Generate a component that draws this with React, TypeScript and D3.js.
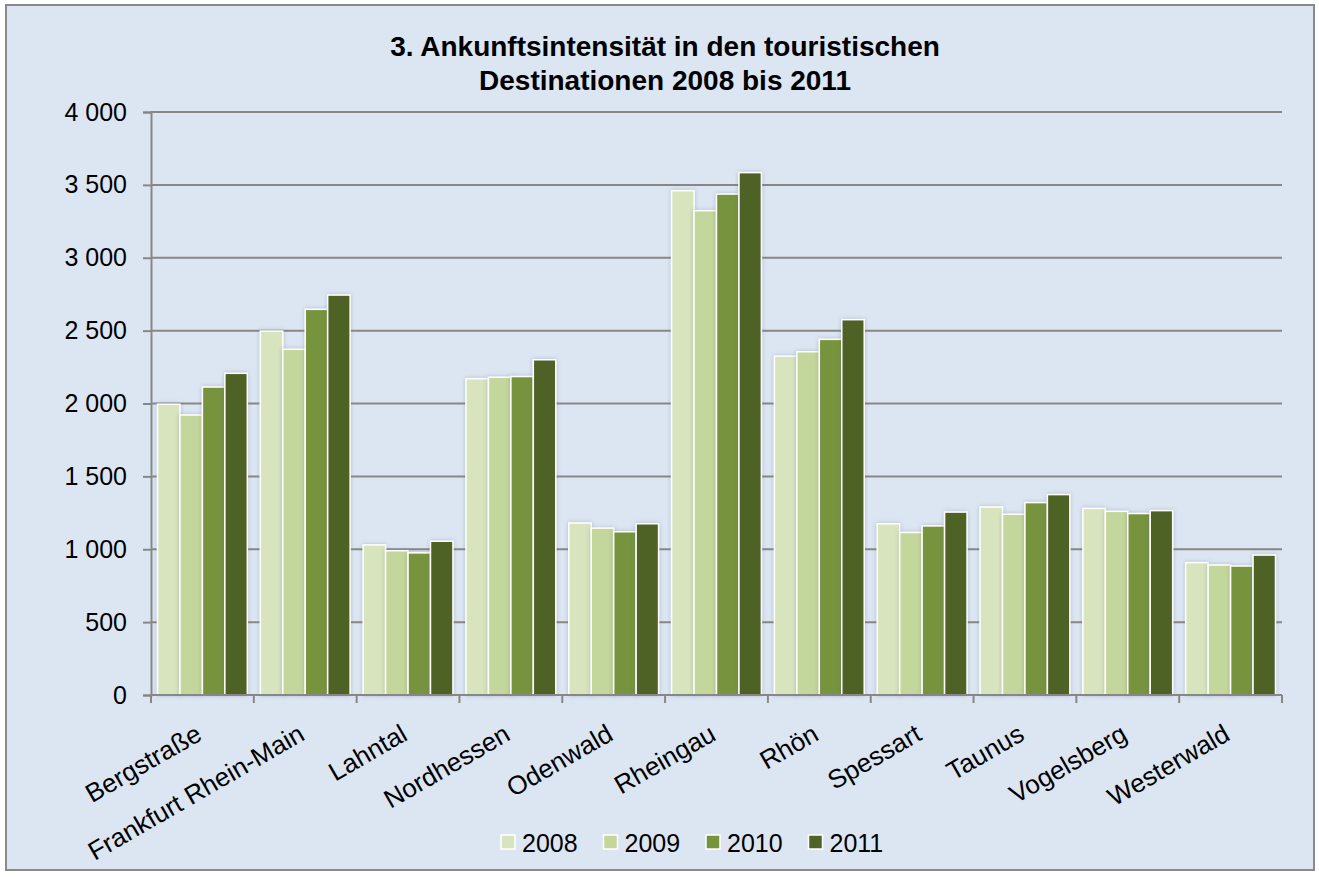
import React, { useEffect, useRef } from "react";
import * as d3 from "d3";

const categories = [
  "Bergstraße",
  "Frankfurt Rhein-Main",
  "Lahntal",
  "Nordhessen",
  "Odenwald",
  "Rheingau",
  "Rhön",
  "Spessart",
  "Taunus",
  "Vogelsberg",
  "Westerwald",
];
const years = ["2008", "2009", "2010", "2011"];
const values2008 = [1995, 2497, 1030, 2170, 1180, 3460, 2325, 1175, 1290, 1280, 908];
const values2009 = [1921, 2372, 990, 2180, 1145, 3323, 2355, 1115, 1240, 1260, 892];
const values2010 = [2113, 2646, 975, 2185, 1120, 3437, 2440, 1160, 1320, 1245, 885];
const values2011 = [2207, 2744, 1055, 2300, 1175, 3584, 2575, 1255, 1375, 1265, 960];
const yTicks = [0, 500, 1000, 1500, 2000, 2500, 3000, 3500, 4000];
const titleLines = [
  "3. Ankunftsintensität in den touristischen",
  "Destinationen 2008 bis 2011",
];
const colors = ["#D7E4BD", "#C3D69B", "#77933C", "#4F6228"];

const App = () => {
  const svgRef = useRef<SVGSVGElement>(null);

  useEffect(() => {
    const svg = d3.select(svgRef.current);
    svg.selectAll("*").remove();

    const font = "Arial, 'Liberation Sans', sans-serif";
    const plot = { left: 151, right: 1282, top: 112, bottom: 695 };
    const series = [values2008, values2009, values2010, values2011];

    // chart frame
    svg
      .append("rect")
      .attr("x", 6)
      .attr("y", 5)
      .attr("width", 1308)
      .attr("height", 865)
      .attr("fill", "#DCE6F2")
      .attr("stroke", "#898989")
      .attr("stroke-width", 2);

    const filter = svg
      .append("defs")
      .append("filter")
      .attr("id", "shadow")
      .attr("x", "-20%")
      .attr("y", "-5%")
      .attr("width", "140%")
      .attr("height", "110%");
    filter
      .append("feDropShadow")
      .attr("dx", 0)
      .attr("dy", 0)
      .attr("stdDeviation", 2)
      .attr("flood-color", "#5a6a80")
      .attr("flood-opacity", 0.35);

    const x = d3.scaleBand().domain(categories).range([plot.left, plot.right]);
    const xInner = d3
      .scaleBand()
      .domain(years)
      .range([0, x.bandwidth()])
      .paddingOuter(0.29)
      .paddingInner(0);
    const y = d3.scaleLinear().domain([0, 4000]).range([plot.bottom, plot.top]);

    // gridlines
    svg
      .append("g")
      .selectAll("line")
      .data(yTicks.filter((t) => t > 0))
      .join("line")
      .attr("x1", plot.left)
      .attr("x2", plot.right)
      .attr("y1", (d) => y(d))
      .attr("y2", (d) => y(d))
      .attr("stroke", "#878787")
      .attr("stroke-width", 2);

    // y axis
    const yAxis = svg
      .append("g")
      .attr("transform", `translate(${plot.left},0)`)
      .call(
        d3
          .axisLeft(y)
          .tickValues(yTicks)
          .tickSize(8)
          .tickPadding(16)
          .tickFormat((d) => d3.format(",")(d as number).replace(/,/g, " "))
      );
    yAxis.select(".domain").attr("stroke", "#878787").attr("stroke-width", 2);
    yAxis.selectAll(".tick line").attr("stroke", "#878787").attr("stroke-width", 2);
    yAxis
      .selectAll(".tick text")
      .attr("fill", "#000")
      .style("font-family", font)
      .style("font-size", "25px");

    // bars
    const groups = svg
      .append("g")
      .selectAll("g")
      .data(categories)
      .join("g")
      .attr("transform", (d) => `translate(${x(d)},0)`);

    groups
      .selectAll("rect")
      .data((d, i) => years.map((yr, k) => ({ yr, k, v: series[k][i] })))
      .join("rect")
      .attr("x", (d) => xInner(d.yr)!)
      .attr("y", (d) => y(d.v))
      .attr("width", xInner.bandwidth())
      .attr("height", (d) => y(0) - y(d.v))
      .attr("fill", (d) => colors[d.k])
      .attr("stroke", "#ffffff")
      .attr("stroke-width", 1.5)
      .attr("filter", "url(#shadow)");

    // x axis
    const xAxis = svg.append("g");
    xAxis
      .append("line")
      .attr("x1", plot.left)
      .attr("x2", plot.right)
      .attr("y1", plot.bottom)
      .attr("y2", plot.bottom)
      .attr("stroke", "#878787")
      .attr("stroke-width", 2);
    xAxis
      .selectAll(".xtick")
      .data(d3.range(categories.length + 1))
      .join("line")
      .attr("x1", (i) => plot.left + i * x.step())
      .attr("x2", (i) => plot.left + i * x.step())
      .attr("y1", plot.bottom)
      .attr("y2", plot.bottom + 8)
      .attr("stroke", "#878787")
      .attr("stroke-width", 2);
    xAxis
      .selectAll("text")
      .data(categories)
      .join("text")
      .attr(
        "transform",
        (d) => `translate(${x(d)! + x.bandwidth() / 2 + 1},739) rotate(-30)`
      )
      .attr("text-anchor", "end")
      .style("font-family", font)
      .style("font-size", "26px")
      .attr("fill", "#000")
      .text((d) => d);

    // title
    svg
      .append("g")
      .selectAll("text")
      .data(titleLines)
      .join("text")
      .attr("x", 665)
      .attr("y", (d, i) => 56 + i * 34)
      .attr("text-anchor", "middle")
      .style("font-family", font)
      .style("font-size", "28px")
      .style("font-weight", "bold")
      .attr("fill", "#000")
      .text((d) => d);

    // legend
    const legend = svg
      .append("g")
      .selectAll("g")
      .data(years)
      .join("g")
      .attr("transform", (d, i) => `translate(${501 + i * 102.5},835)`);
    legend
      .append("rect")
      .attr("width", 14)
      .attr("height", 14)
      .attr("fill", (d, i) => colors[i])
      .attr("stroke", "#ffffff")
      .attr("stroke-width", 1.5);
    legend
      .append("text")
      .attr("x", 21)
      .attr("y", 17)
      .style("font-family", font)
      .style("font-size", "25px")
      .attr("fill", "#000")
      .text((d) => d);
  }, []);

  return (
    <svg
      ref={svgRef}
      width={1319}
      height={877}
      style={{ position: "absolute", left: 0, top: 0, background: "#ffffff" }}
    ></svg>
  );
};

export default App;
